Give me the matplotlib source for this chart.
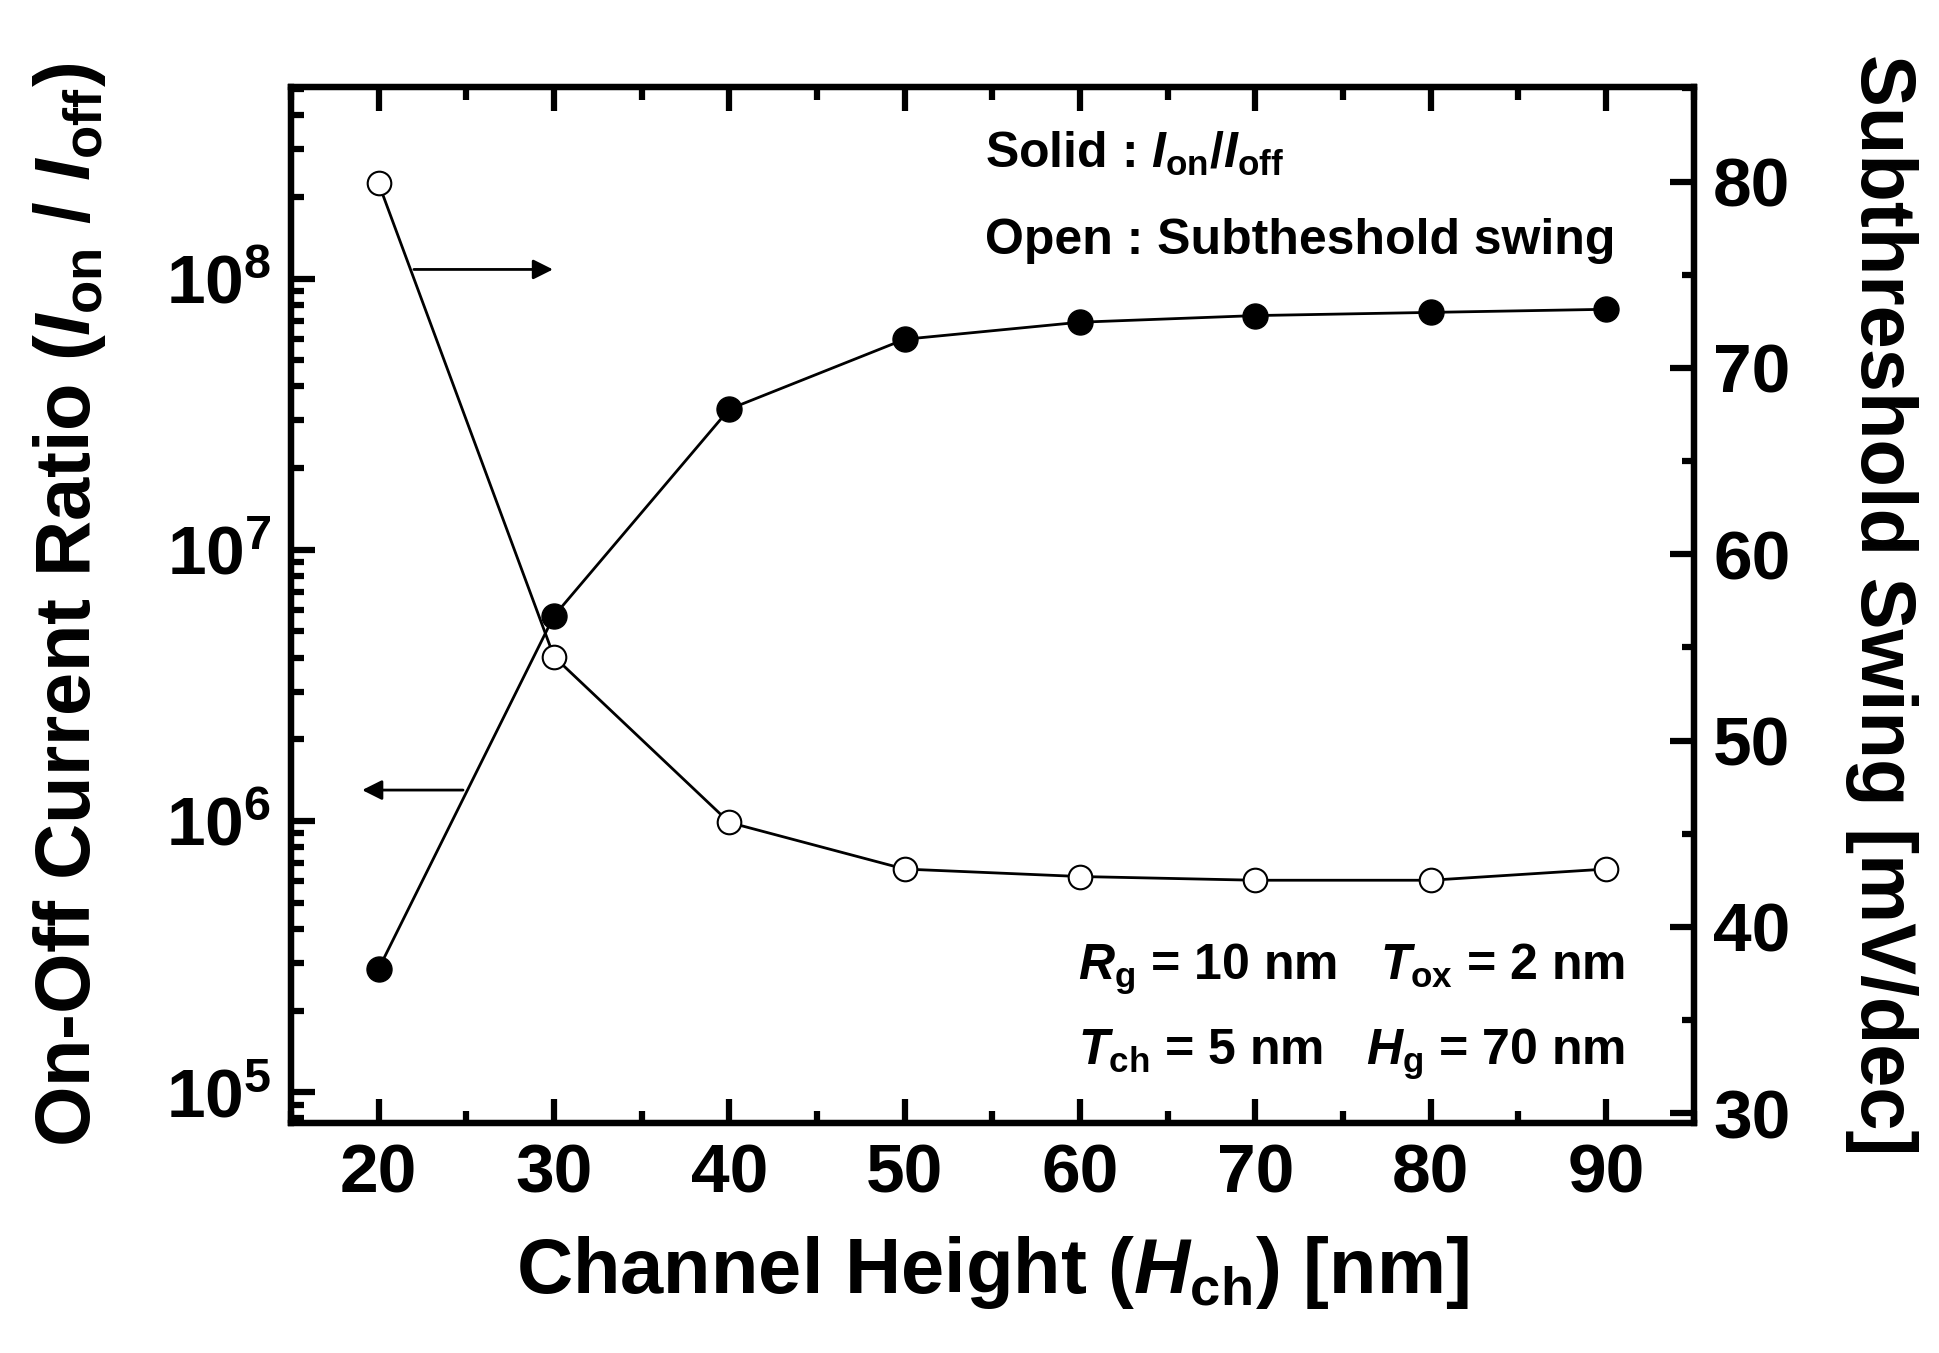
import matplotlib
matplotlib.use("Agg")
import matplotlib.pyplot as plt
from matplotlib import font_manager
from matplotlib.ticker import LogLocator, FixedLocator, FixedFormatter, MultipleLocator, NullFormatter

# ---------------- data ----------------
channel_height = [20, 30, 40, 50, 60, 70, 80, 90]
on_off_ratio = [2.85e5, 5.7e6, 3.3e7, 5.97e7, 6.9e7, 7.3e7, 7.5e7, 7.7e7]
subthreshold_swing = [79.9, 54.5, 45.6, 43.1, 42.7, 42.5, 42.5, 43.1]
x_ticks = [20, 30, 40, 50, 60, 70, 80, 90]
left_ticks = [1e5, 1e6, 1e7, 1e8]
left_tick_labels = [r'$\mathbf{10^{5}}$', r'$\mathbf{10^{6}}$', r'$\mathbf{10^{7}}$', r'$\mathbf{10^{8}}$']
right_ticks = [30, 40, 50, 60, 70, 80]

# ---------------- fonts ----------------
def pick(names):
    for n in names:
        try:
            font_manager.findfont(font_manager.FontProperties(family=n), fallback_to_default=False)
            return n
        except Exception:
            pass
    return 'DejaVu Sans'

fam = pick(['Liberation Sans Narrow', 'Liberation Sans', 'Arial', 'DejaVu Sans'])
plt.rcParams['font.family'] = [fam, 'DejaVu Sans']
plt.rcParams['font.weight'] = 'bold'
plt.rcParams['mathtext.fontset'] = 'custom'
plt.rcParams['mathtext.rm'] = f'{fam}:bold'
plt.rcParams['mathtext.bf'] = f'{fam}:bold'
plt.rcParams['mathtext.it'] = f'{fam}:italic:bold'
plt.rcParams['mathtext.default'] = 'bf'

fig = plt.figure(figsize=(19.4, 13.53), dpi=100)
ax = fig.add_axes([0.150, 0.170, 0.723, 0.766])
ax2 = ax.twinx()

# ---------------- plots ----------------
ax.plot(channel_height, on_off_ratio, color='black', lw=2.0, marker='o', ms=18,
        mfc='black', mec='black', zorder=3)
ax2.plot(channel_height, subthreshold_swing, color='black', lw=2.0, marker='o', ms=17,
         mfc='white', mec='black', mew=1.5, zorder=3)

ax.set_yscale('log')
ax.set_xlim(15, 95)
ax.set_ylim(7.7e4, 5.1e8)
ax2.set_ylim(29.47, 85.1)

# ticks
ax.xaxis.set_major_locator(FixedLocator(x_ticks))
ax.xaxis.set_minor_locator(MultipleLocator(5))
ax.yaxis.set_major_locator(FixedLocator(left_ticks))
ax.yaxis.set_major_formatter(FixedFormatter(left_tick_labels))
ax.yaxis.set_minor_locator(LogLocator(base=10, subs=[2, 3, 4, 5, 6, 7, 8, 9]))
ax.yaxis.set_minor_formatter(NullFormatter())
ax2.yaxis.set_major_locator(FixedLocator(right_ticks))
ax2.yaxis.set_minor_locator(MultipleLocator(5))

for a in (ax, ax2):
    for s in a.spines.values():
        s.set_linewidth(4.5)
ax.tick_params(axis='both', which='major', direction='in', length=17, width=4.5, labelsize=50, pad=14)
ax.tick_params(axis='both', which='minor', direction='in', length=9, width=4.5)
ax.tick_params(axis='x', which='both', top=True)
ax.tick_params(axis='y', which='both', right=False)
ax2.tick_params(axis='y', which='major', direction='in', length=17, width=4.5, labelsize=50, pad=14)
ax2.tick_params(axis='y', which='minor', direction='in', length=9, width=4.5)
for lab in ax.get_xticklabels() + ax2.get_yticklabels():
    lab.set_fontweight('bold')

# labels
ax.set_xlabel(r'Channel Height ($\mathit{H}_{\mathrm{ch}}$) [nm]', fontsize=56, fontweight='bold', labelpad=20)
ax.set_ylabel(r'On-Off Current Ratio ($\mathit{I}_{\mathrm{on}}$ / $\mathit{I}_{\mathrm{off}}$)', fontsize=56,
              fontweight='bold', labelpad=42)
ax2.set_ylabel('Subthreshold Swing [mV/dec]', fontsize=56, fontweight='bold', rotation=-90, labelpad=92)

# annotations
ax.text(0.495, 0.922, r'Solid : $\mathit{I}_{\mathrm{on}}$/$\mathit{I}_{\mathrm{off}}$', transform=ax.transAxes,
        fontsize=36, fontweight='bold', ha='left', va='baseline')
ax.text(0.495, 0.838, 'Open : Subtheshold swing', transform=ax.transAxes,
        fontsize=36, fontweight='bold', ha='left', va='baseline')
ax.text(0.561, 0.138, r'$\mathit{R}_{\mathrm{g}}$ = 10 nm   $\mathit{T}_{\mathrm{ox}}$ = 2 nm', transform=ax.transAxes,
        fontsize=36, fontweight='bold', ha='left', va='baseline')
ax.text(0.561, 0.056, r'$\mathit{T}_{\mathrm{ch}}$ = 5 nm   $\mathit{H}_{\mathrm{g}}$ = 70 nm', transform=ax.transAxes,
        fontsize=36, fontweight='bold', ha='left', va='baseline')

# arrows
ax.annotate('', xy=(30.1, 1.08e8), xytext=(21.85, 1.08e8),
            arrowprops=dict(arrowstyle='-|>', lw=2.0, color='black', mutation_scale=30))
ax.annotate('', xy=(18.9, 1.3e6), xytext=(24.97, 1.3e6),
            arrowprops=dict(arrowstyle='-|>', lw=2.0, color='black', mutation_scale=30))

fig.savefig('out.png', dpi=100)
